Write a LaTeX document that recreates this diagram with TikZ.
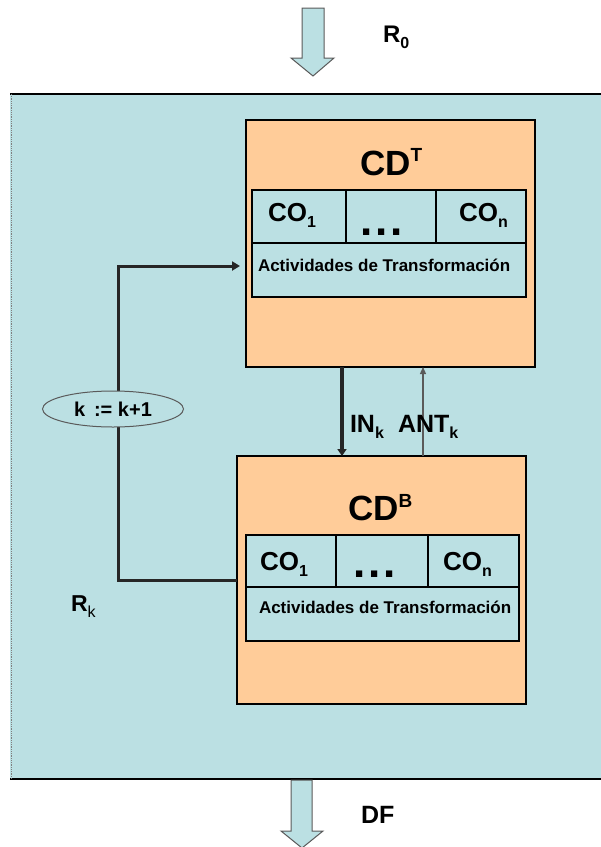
\documentclass[tikz,border=0pt]{standalone}
\usepackage{fontspec}
\setmainfont{Liberation Sans}
\usetikzlibrary{arrows.meta,shapes.geometric}
\definecolor{bgblue}{RGB}{187,224,227}
\definecolor{peach}{RGB}{255,204,153}
\definecolor{arrowgray}{RGB}{90,90,90}
\newcommand\lowsub[1]{\raisebox{-6pt}{\fontsize{16}{16}\selectfont #1}}
\begin{document}
\begin{tikzpicture}[x=1pt,y=-1pt,
  every node/.style={inner sep=0pt, outer sep=0pt, font=\bfseries},
  cdbox/.style={draw=black, line width=1.8pt, fill=peach, minimum width=289pt, minimum height=247pt},
  tablebox/.style={draw=black, line width=1.8pt, fill=bgblue, minimum width=274pt, minimum height=107pt},
  tline/.style={draw=black, line width=1.2pt},
  bigarrow/.style={fill=bgblue, draw=arrowgray, line width=1pt, line join=miter},
  titletxt/.style={anchor=base west, font=\bfseries\fontsize{35}{35}\selectfont},
  cotxt/.style={anchor=base west, font=\bfseries\fontsize{26}{26}\selectfont},
  acttxt/.style={anchor=base west, font=\bfseries\fontsize{17}{17}\selectfont},
  lbltxt/.style={anchor=base west, font=\bfseries\fontsize{25}{25}\selectfont},
  looparrow/.style={draw=black!85, line width=3pt, line join=miter, -{Triangle[length=8pt,width=9pt]}},
  inarrow/.style={draw=black!85, line width=3.5pt, -{Triangle[length=7pt,width=9pt]}},
  antarrow/.style={draw=arrowgray, line width=1.3pt, -{Triangle[length=7pt,width=6pt]}}
]
\useasboundingbox (0,0) rectangle (601,847);

% outer region
\node[fill=bgblue, minimum width=600pt, minimum height=685pt, anchor=north west] (outer) at (10,94) {};
\draw[line width=1.5pt] (outer.north west) -- (outer.north east);
\draw[line width=1.5pt] (outer.south west) -- (outer.south east);
\draw[gray, line width=0.8pt, densely dotted] ([xshift=1pt]outer.north west) -- ([xshift=1pt]outer.south west);

% top and bottom big arrows
\draw[bigarrow] (302,8) -- (324,8) -- (324,58) -- (334,58) -- (313,76) -- (291,58) -- (302,58) -- cycle;
\node[lbltxt, font=\bfseries\fontsize{24}{24}\selectfont] (r0) at (383,42) {R\lowsub{0}};
\draw[bigarrow] (291,780) -- (312,780) -- (312,831) -- (323,831) -- (302,848) -- (281,831) -- (291,831) -- cycle;
\node[lbltxt, font=\bfseries\fontsize{25}{25}\selectfont] (df) at (361,823) {DF};

% CD^T
\node[cdbox, anchor=north west] (CDT) at (246,120) {};
\node[titletxt] (cdtT) at (360,175) {CD\raisebox{14pt}{\fontsize{19}{19}\selectfont T}};
\node[tablebox, anchor=north west] (T1) at (252,190) {};
\draw[tline, line width=1.5pt] ([yshift=-53pt]T1.north west) -- ([yshift=-53pt]T1.north east);
\draw[tline] ([xshift=94pt]T1.north west) -- ([xshift=94pt,yshift=-53pt]T1.north west);
\draw[tline, line width=2pt] ([xshift=184pt]T1.north west) -- ([xshift=184pt,yshift=-53pt]T1.north west);
\node[cotxt] (co1T) at (268,221) {CO\lowsub{1}};
\node[anchor=base west, font=\bfseries\fontsize{44}{44}\selectfont] (dotsT) at (360,235) {.\hspace{3pt}.\hspace{3pt}.};
\node[cotxt] (conT) at (459,221) {CO\lowsub{n}};
\node[acttxt] (actT) at (258,271) {Actividades de Transformación};

% CD^B
\node[cdbox, minimum height=248pt, anchor=north west] (CDB) at (237,456) {};
\node[titletxt] (cdbB) at (348,520) {CD\raisebox{13pt}{\fontsize{19}{19}\selectfont B}};
\node[tablebox, minimum width=273pt, minimum height=106pt, anchor=north west] (T2) at (246,535) {};
\draw[tline, line width=1.5pt] ([yshift=-52pt]T2.north west) -- ([yshift=-52pt]T2.north east);
\draw[tline] ([xshift=90pt]T2.north west) -- ([xshift=90pt,yshift=-52pt]T2.north west);
\draw[tline] ([xshift=182pt]T2.north west) -- ([xshift=182pt,yshift=-52pt]T2.north west);
\node[cotxt] (co1B) at (260,570) {CO\lowsub{1}};
\node[anchor=base west, font=\bfseries\fontsize{44}{44}\selectfont] (dotsB) at (353,577) {.\hspace{3pt}.\hspace{3pt}.};
\node[cotxt] (conB) at (443,570) {CO\lowsub{n}};
\node[acttxt] (actB) at (259,613) {Actividades de Transformación};

% connectors between CD^T and CD^B
\draw[inarrow] ([xshift=96pt]CDT.south west) -- ([xshift=96pt]CDT.south west |- CDB.north);
\draw[antarrow] ([xshift=177pt]CDT.south west |- CDB.north) -- ([xshift=177pt]CDT.south west);
\node[lbltxt] (ink) at (350,432) {IN\lowsub{k}};
\node[lbltxt] (antk) at (398,432) {ANT\lowsub{k}};

% feedback loop
\coordinate (loopA) at (118,580);
\coordinate (loopB) at (118,266);
\coordinate (loopEnd) at (240,266);
\draw[looparrow] (CDB.west) -- (loopA) -- (loopB) -- (loopEnd);
\node[ellipse, draw=arrowgray, line width=1pt, fill=bgblue, minimum width=141pt, minimum height=36pt,
      font=\bfseries\fontsize{20}{20}\selectfont] (inc) at (113,409) {k \,:= k+1};
\node[anchor=base west, font=\bfseries\fontsize{23}{23}\selectfont] (rk) at (71,611) {R{\mdseries\lowsub{k}}};
\end{tikzpicture}
\end{document}
